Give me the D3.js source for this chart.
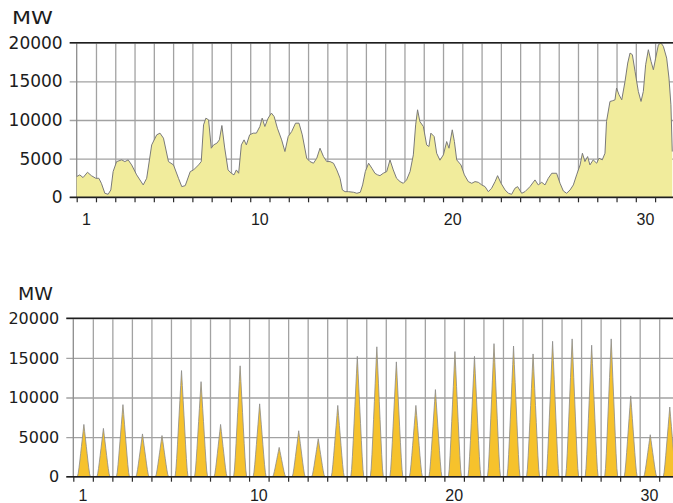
<!DOCTYPE html>
<html>
<head>
<meta charset="utf-8">
<script src="https://d3js.org/d3.v7.min.js"></script>
<style>
  body { margin: 0; background: #fff; }
  svg { display: block; }
</style>
</head>
<body>
<div id="chart"></div>
<script>
// wind feed-in, MW (day of month as a fraction, 0 = start of day 1)
const windDay = [0.00, 0.16, 0.33, 0.56, 0.76, 0.99, 1.15, 1.28, 1.46, 1.63, 1.77, 1.89, 2.07, 2.33, 2.50, 2.67, 2.85, 3.11, 3.45, 3.63,
  3.89, 4.15, 4.32, 4.50, 4.76, 5.02, 5.28, 5.45, 5.63, 5.89, 6.06, 6.32, 6.46, 6.58, 6.70, 6.84, 6.98, 7.10, 7.27, 7.40,
  7.53, 7.67, 7.85, 8.02, 8.16, 8.28, 8.40, 8.54, 8.68, 8.80, 8.97, 9.15, 9.32, 9.50, 9.62, 9.76, 9.93, 10.10, 10.24, 10.41,
  10.63, 10.80, 10.97, 11.15, 11.35, 11.53, 11.70, 11.93, 12.10, 12.28, 12.45, 12.62, 12.80, 12.97, 13.14, 13.32, 13.49, 13.66, 13.78, 13.92,
  14.10, 14.36, 14.53, 14.71, 14.83, 14.97, 15.14, 15.31, 15.47, 15.61, 15.73, 15.90, 16.08, 16.25, 16.42, 16.59, 16.77, 16.94, 17.11, 17.29,
  17.46, 17.58, 17.68, 17.80, 17.98, 18.15, 18.27, 18.37, 18.54, 18.67, 18.84, 19.02, 19.19, 19.31, 19.48, 19.59, 19.71, 19.93, 20.11, 20.31,
  20.49, 20.66, 20.83, 21.01, 21.18, 21.35, 21.52, 21.70, 21.83, 22.01, 22.22, 22.39, 22.56, 22.73, 22.87, 23.08, 23.25, 23.51, 23.77, 23.94,
  24.12, 24.29, 24.46, 24.64, 24.89, 25.07, 25.24, 25.41, 25.59, 25.76, 25.93, 26.11, 26.23, 26.36, 26.50, 26.62, 26.79, 26.97, 27.09, 27.26,
  27.40, 27.48, 27.66, 27.78, 27.92, 28.00, 28.13, 28.27, 28.44, 28.58, 28.70, 28.82, 28.96, 29.13, 29.27, 29.39, 29.51, 29.65, 29.79, 29.91,
  30.03, 30.17, 30.31, 30.43, 30.60, 30.72, 30.82, 30.89];
const windMW = [2680, 2900, 2550, 3240, 2800, 2460, 2460, 1810, 520, 390, 950, 3330, 4620, 4840, 4620, 4840, 4190, 2900, 1600, 2460,
  6780, 8080, 8300, 7650, 4620, 4190, 2460, 1380, 1510, 3330, 3540, 4190, 4620, 9370, 10240, 10020, 6350, 6780, 7000, 7430,
  9290, 6500, 3540, 3110, 2900, 3540, 3110, 6780, 7430, 6780, 8080, 8300, 8300, 9160, 10240, 9160, 10240, 10890, 10450, 8940,
  7430, 5920, 7860, 8510, 9590, 9590, 8080, 5050, 4620, 4410, 5050, 6350, 5270, 4620, 4620, 4410, 3540, 2460, 950, 730,
  730, 650, 520, 650, 1600, 3330, 4410, 3760, 3100, 2900, 2800, 3110, 3330, 4840, 3540, 2460, 2030, 1810, 2250, 3330,
  5490, 9370, 11320, 9800, 9160, 6780, 6570, 8300, 7860, 5700, 4800, 5490, 7210, 6350, 8730, 7210, 4840, 4190, 2900, 2030,
  1810, 2030, 1940, 1600, 1380, 730, 1170, 2030, 2800, 1810, 950, 520, 390, 1170, 1380, 520, 730, 1380, 2250, 1600,
  1940, 1600, 2460, 3110, 3110, 1810, 820, 520, 950, 1600, 2900, 4190, 5700, 4620, 5270, 4190, 4840, 4410, 5050, 4840,
  5700, 9800, 12400, 12480, 12610, 14130, 13260, 12610, 14990, 17370, 18660, 18450, 16290, 13700, 12400, 13700, 17150, 19090, 17580, 16500,
  18010, 19740, 19960, 19520, 18010, 15420, 11970, 5920];

// solar feed-in: daily peak in MW (days 1..31) and the shape of a day around the 13:00 peak (hours -8..+8)
const solarPeakMW = [6600, 6100, 9100, 5400, 5200, 13400, 12000, 6600, 14000, 9200, 3700, 5800, 4800, 9000, 15200, 16400,
  14500, 9000, 11000, 15800, 15200, 16800, 16500, 15500, 17100, 17400, 16600, 17400, 10200, 5300, 8800];
const solarShape = [0, 0.06, 0.17, 0.3, 0.44, 0.58, 0.72, 0.86, 1, 0.86, 0.72, 0.58, 0.44, 0.3, 0.17, 0.06, 0];

const dayLabels = [1, 10, 20, 30];
const yTicks = [0, 5000, 10000, 15000, 20000];

document.addEventListener('DOMContentLoaded', function() {
    const svg = d3.select('#chart').append('svg')
        .attr('width', 673)
        .attr('height', 503);

    // wind rows
    const windRows = windDay.map((d, i) => ({ t: d, v: windMW[i] }));

    // solar rows, hourly
    const half = (solarShape.length - 1) / 2;
    const solarRows = [];
    solarPeakMW.forEach((peak, day) => {
        for (let h = 0; h < 24; h++) {
            const k = h - 13 + half;
            const f = (k >= 0 && k < solarShape.length) ? solarShape[k] : 0;
            solarRows.push({ t: day + h / 24, v: peak * f });
        }
    });
    solarRows.push({ t: 31, v: 0 });

    function drawPanel(p) {
        const x = d3.scaleLinear().domain([0, 31]).range([p.left, p.left + 31 * p.dayW]);
        const y = d3.scaleLinear().domain([0, 20000]).range([p.bottom, p.top]);
        const g = svg.append('g');

        // vertical grid, one line per day boundary
        g.append('g')
            .attr('transform', `translate(0,${p.bottom})`)
            .call(d3.axisBottom(x).tickValues(d3.range(1, 31)).tickSize(-(p.bottom - p.top)).tickFormat(''))
            .call(a => a.select('.domain').remove())
            .selectAll('line').attr('stroke', '#a2a2a2').attr('stroke-width', 1.3);

        // horizontal grid + y ticks and labels
        const yAxis = g.append('g')
            .attr('transform', `translate(${p.left},0)`)
            .call(d3.axisLeft(y).tickValues(yTicks).tickSize(7).tickPadding(7).tickFormat(d3.format('d')));
        yAxis.select('.domain').remove();
        yAxis.selectAll('line')
            .attr('x2', -7)
            .attr('x1', 673 - p.left)
            .attr('stroke', '#a2a2a2')
            .attr('stroke-width', 1.3);
        yAxis.selectAll('text')
            .attr('font-family', '"DejaVu Sans", Verdana, sans-serif')
            .attr('font-size', p.labelSize)
            .attr('fill', '#1c1c1c');

        // left axis line
        g.append('line')
            .attr('x1', p.left).attr('x2', p.left)
            .attr('y1', p.top).attr('y2', p.bottom)
            .attr('stroke', '#8c8c8c').attr('stroke-width', 1.3);

        // series
        const area = d3.area().x(d => x(d.t)).y0(y(0)).y1(d => y(d.v));
        const line = d3.line().x(d => x(d.t)).y(d => y(d.v));
        g.append('path')
            .datum(p.rows)
            .attr('d', area)
            .attr('fill', p.fill);
        g.append('path')
            .datum(p.rows)
            .attr('d', line)
            .attr('fill', 'none')
            .attr('stroke', p.stroke)
            .attr('stroke-width', p.strokeW)
            .attr('stroke-linejoin', 'round');

        // dark top border and base line
        [20000, 0].forEach(v => {
            g.append('line')
                .attr('x1', p.left - 7).attr('x2', 673)
                .attr('y1', y(v)).attr('y2', y(v))
                .attr('stroke', '#1e1e1e').attr('stroke-width', 1.5);
        });

        // day ticks below base line
        g.append('g')
            .attr('transform', `translate(0,${p.bottom})`)
            .call(d3.axisBottom(x).tickValues(d3.range(0, 32)).tickSize(5).tickFormat(''))
            .call(a => a.select('.domain').remove())
            .selectAll('line').attr('stroke', '#2a2a2a').attr('stroke-width', 1.2);

        // day labels, centred in the day
        g.selectAll('text.day')
            .data(dayLabels)
            .enter()
            .append('text')
            .attr('class', 'day')
            .attr('x', d => x(d - 0.5))
            .attr('y', p.xLabelY)
            .attr('text-anchor', 'middle')
            .attr('font-family', '"Liberation Sans", Arial, sans-serif')
            .attr('font-size', 16)
            .attr('fill', '#1c1c1c')
            .text(d => d);

        // unit
        g.append('text')
            .attr('x', p.unitX)
            .attr('y', p.unitY)
            .attr('font-family', '"DejaVu Sans", Verdana, sans-serif')
            .attr('font-size', 17)
            .attr('textLength', p.unitW)
            .attr('lengthAdjust', 'spacingAndGlyphs')
            .attr('fill', '#1c1c1c')
            .text('MW');
    }

    drawPanel({
        rows: windRows, left: 76.7, dayW: 19.28, top: 42.7, bottom: 197.3,
        fill: '#f1ec9c', stroke: '#7a7a7a', strokeW: 1,
        labelSize: 17, xLabelY: 224.5, unitX: 12, unitY: 23.5, unitW: 41
    });
    drawPanel({
        rows: solarRows, left: 73.3, dayW: 19.53, top: 318.3, bottom: 476.7,
        fill: '#f6c22c', stroke: '#8a8a8a', strokeW: 0.8,
        labelSize: 16, xLabelY: 501, unitX: 18, unitY: 300, unitW: 35
    });
});
</script>
</body>
</html>
